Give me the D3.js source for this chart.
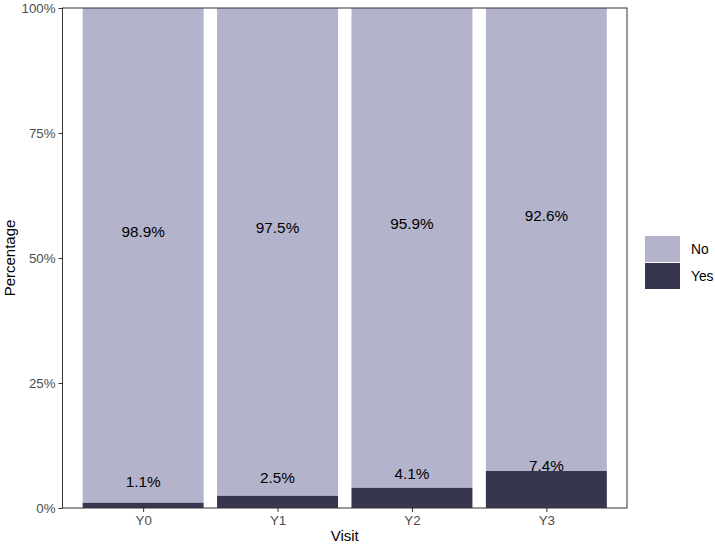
<!DOCTYPE html>
<html>
<head>
<meta charset="utf-8">
<script src="https://cdn.jsdelivr.net/npm/d3@7"></script>
<style>
  body { margin: 0; background: #fff; }
  svg text { font-family: "Liberation Sans", Arial, Helvetica, sans-serif; }
</style>
</head>
<body>
<svg id="chart" width="715" height="544"></svg>
<script>
// data
const visits = ["Y0", "Y1", "Y2", "Y3"];
const yesPct = [1.1, 2.5, 4.1, 7.4];
const noPct = [98.9, 97.5, 95.9, 92.6];
const groups = ["No", "Yes"];
const yTicks = [0, 25, 50, 75, 100];

const colors = { No: "#b3b3cc", Yes: "#36364e" };

let margin = { top: 8, right: 88, bottom: 36, left: 62.5 },
    width = 715 - margin.left - margin.right,
    height = 508 - margin.top;

const svg = d3.select("#chart");
const chart = svg.append("g")
    .attr("transform", "translate(" + margin.left + "," + margin.top + ")");

// discrete x with ggplot-like 0.6 expansion on each side
let step = width / (visits.length - 1 + 1.2);
let x = d3.scalePoint().domain(visits).range([0.6 * step, width - 0.6 * step]);
let barW = 0.9 * step;
let y = d3.scaleLinear().domain([0, 100]).range([height, 0]);

// stacked rows: Yes at the bottom, No on top
const rows = visits.map((v, i) => ({ visit: v, Yes: yesPct[i], No: noPct[i] }));
const stack = d3.stack().keys(["Yes", "No"])(rows);

chart.selectAll("g.layer")
    .data(stack)
    .join("g")
    .attr("class", "layer")
    .attr("fill", d => colors[d.key])
    .selectAll("rect")
    .data(d => d)
    .join("rect")
    .attr("x", d => x(d.data.visit) - barW / 2)
    .attr("width", barW)
    .attr("y", d => y(d[1]))
    .attr("height", d => y(d[0]) - y(d[1]));

// labels: middle of each segment, nudged up
stack.forEach(layer => {
    chart.selectAll(null)
        .data(layer)
        .join("text")
        .attr("x", d => x(d.data.visit))
        .attr("y", d => y((d[0] + d[1]) / 2) - 24)
        .attr("dy", "0.35em")
        .attr("text-anchor", "middle")
        .style("font-size", "15.3px")
        .attr("fill", "#000")
        .text(d => d.data[layer.key].toFixed(1) + "%");
});

// axes
let yAxis = d3.axisLeft(y).tickValues(yTicks).tickFormat(d => d + "%").tickSize(4).tickPadding(3);
let xAxis = d3.axisBottom(x).tickSize(4).tickPadding(4);

const ya = chart.append("g").call(yAxis);
const xa = chart.append("g").attr("transform", "translate(0," + height + ")").call(xAxis);
[ya, xa].forEach(a => {
    a.select(".domain").remove();
    a.selectAll(".tick line").attr("stroke", "#333").attr("stroke-width", 1);
    a.selectAll("text").attr("fill", "#4d4d4d").style("font-size", "13.3px");
});

// panel border
chart.append("rect")
    .attr("width", width).attr("height", height)
    .attr("fill", "none").attr("stroke", "#333").attr("stroke-width", 1);

// axis titles
svg.append("text")
    .attr("x", margin.left + width / 2).attr("y", 541)
    .attr("text-anchor", "middle").style("font-size", "15px")
    .text("Visit");
svg.append("text")
    .attr("transform", "translate(15," + (margin.top + height / 2) + ") rotate(-90)")
    .attr("text-anchor", "middle").style("font-size", "15px")
    .text("Percentage");

// legend
const legend = svg.append("g").attr("transform", "translate(645,236)");
const item = legend.selectAll("g")
    .data(groups)
    .join("g")
    .attr("transform", (d, i) => "translate(0," + i * 27 + ")");
item.append("rect")
    .attr("width", 35).attr("height", 26)
    .attr("fill", d => colors[d]);
item.append("text")
    .attr("x", 46).attr("y", 13).attr("dy", "0.35em")
    .style("font-size", "13.8px")
    .text(d => d);
</script>
</body>
</html>
